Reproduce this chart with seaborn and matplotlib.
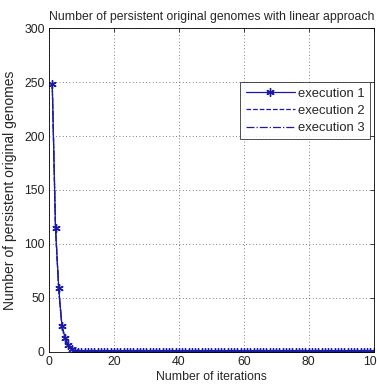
import numpy as np
import pandas as pd
import matplotlib
matplotlib.use("Agg")
import matplotlib.pyplot as plt
import seaborn as sns

# ── Data ─────────────────────────────────────────────────
iterations = list(range(1, 101))
head_exec1 = [248, 115, 59, 24, 13, 6, 3, 1]
head_exec2 = [248, 114, 57, 23, 12, 5, 2, 1]
head_exec3 = [248, 116, 58, 22, 11, 5, 2, 0]
exec1 = head_exec1 + [0] * (100 - len(head_exec1))
exec2 = head_exec2 + [0] * (100 - len(head_exec2))
exec3 = head_exec3 + [0] * (100 - len(head_exec3))

df = pd.DataFrame({"iteration": iterations,
                   "execution 1": exec1,
                   "execution 2": exec2,
                   "execution 3": exec3})

sns.set_style("white")
plt.rcParams["font.family"] = ["Liberation Sans", "DejaVu Sans"]
plt.rcParams["xtick.direction"] = "in"
plt.rcParams["ytick.direction"] = "in"

fig = plt.figure(figsize=(3.77, 3.85), dpi=100)
ax = fig.add_axes([0.130, 0.086, 0.861, 0.841])

blue = "#1a1aa6"
fs = 8.8
sns.lineplot(data=df, x="iteration", y="execution 1", ax=ax, color=blue,
             lw=0.9, marker=(6, 2, 0), markersize=6, markeredgewidth=1.0,
             markeredgecolor=blue, label="execution 1")
sns.lineplot(data=df, x="iteration", y="execution 2", ax=ax, color=blue,
             lw=0.9, linestyle="--", label="execution 2")
sns.lineplot(data=df, x="iteration", y="execution 3", ax=ax, color=blue,
             lw=0.9, linestyle="-.", label="execution 3")

ax.set_xlim(0, 100)
ax.set_ylim(0, 300)
ax.set_xticks([0, 20, 40, 60, 80, 100])
ax.set_yticks([0, 50, 100, 150, 200, 250, 300])
ax.grid(True, linestyle=(0, (1, 3)), color="#555555", lw=0.6)
for s in ax.spines.values():
    s.set_color("black")
    s.set_linewidth(0.6)
ax.tick_params(labelsize=fs, length=3, width=0.6, colors="#222222",
               top=True, right=True, pad=3)

ax.set_title("Number of persistent original genomes with linear approach",
             fontsize=fs, pad=6)
ax.set_xlabel("Number of iterations", fontsize=fs, labelpad=2)
ax.set_ylabel("Number of persistent original genomes", fontsize=10,
              labelpad=5)

leg = ax.legend(loc="upper right", bbox_to_anchor=(0.988, 0.833), fontsize=fs + 0.6,
                frameon=True, fancybox=False, edgecolor="black",
                borderpad=0.4, labelspacing=0.4, handlelength=3.8,
                handletextpad=0.2, borderaxespad=0)
leg.get_frame().set_linewidth(0.6)

plt.savefig("out.png", dpi=100)
